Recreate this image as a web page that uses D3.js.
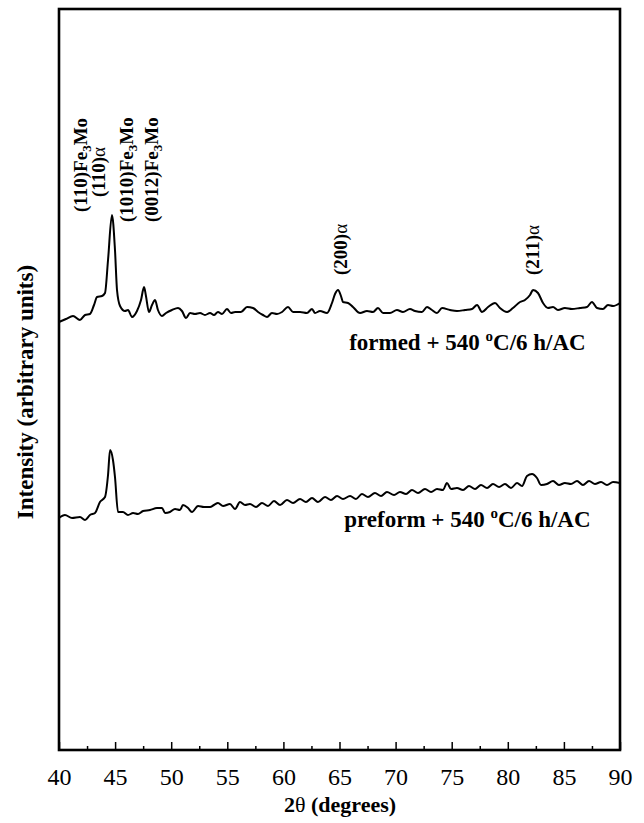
<!DOCTYPE html>
<html><head><meta charset="utf-8">
<script src="https://cdn.jsdelivr.net/npm/d3@7"></script>
<style>
html,body{margin:0;padding:0;background:#fff;}
svg{display:block;}
text{font-family:"Liberation Serif","Times New Roman",serif;fill:#000;}
</style></head>
<body>
<svg id="chart" width="644" height="823"></svg>
<script>
// ---- data (2θ in degrees, intensity in arbitrary units) ----
const formedTheta = [40.00,40.62,41.25,41.87,42.32,42.76,43.12,43.39,43.83,44.10,44.37,44.72,44.99,45.17,45.44,45.88,46.15,46.51,46.95,47.31,47.58,47.75,48.02,48.29,48.56,48.82,49.18,49.54,50.07,50.61,50.96,51.32,51.68,52.12,52.57,53.01,53.46,53.81,54.17,54.53,54.97,55.33,55.69,56.22,56.76,57.29,57.74,58.18,58.54,58.98,59.43,59.88,60.41,60.86,61.48,62.10,62.55,62.82,63.26,63.89,64.33,64.60,64.87,65.13,65.31,65.76,66.20,66.83,67.45,67.99,68.43,68.88,69.50,70.12,70.66,71.28,71.73,72.35,72.80,73.24,73.69,74.14,74.85,75.47,76.19,76.81,77.26,77.70,78.24,78.86,79.30,79.93,80.46,81.09,81.53,81.98,82.25,82.69,83.14,83.58,84.03,84.47,85.09,85.72,86.43,87.06,87.50,87.95,88.48,88.93,89.38,90.00];
const formedIntensity = [428,431,434,430,435,436,445,453,454,457,490,535,500,460,444,439,440,433,439,450,463,454,438,445,450,440,434,437,440,442,439,432,437,436,437,435,437,435,438,436,441,437,438,438,443,442,438,435,433,437,436,438,443,438,438,437,441,437,439,437,447,456,460,454,448,447,443,437,439,438,442,437,437,440,438,441,439,438,443,440,437,442,440,439,440,441,445,438,443,447,442,438,442,448,450,455,460,457,447,442,443,440,442,441,442,443,448,442,441,445,444,447];

const preformTheta = [40.00,40.53,41.16,41.87,42.32,42.76,43.21,43.65,44.10,44.37,44.55,44.81,44.99,45.26,45.70,46.15,46.60,47.04,47.49,48.11,48.73,49.18,49.45,49.89,50.34,50.78,51.05,51.50,51.85,52.39,52.92,53.46,53.81,54.17,54.62,55.24,55.69,56.13,56.58,57.02,57.56,58.09,58.63,59.16,59.70,60.32,60.86,61.48,62.01,62.55,63.08,63.71,64.24,64.78,65.31,65.94,66.47,67.00,67.54,68.16,68.70,69.23,69.86,70.39,70.93,71.46,72.00,72.62,73.16,73.69,74.22,74.58,74.94,75.47,76.01,76.54,77.08,77.61,78.15,78.68,79.22,79.75,80.29,80.82,81.27,81.71,82.16,82.60,82.96,83.49,84.03,84.56,85.09,85.63,86.17,86.70,87.24,87.77,88.31,88.84,89.38,90.00];
const preformIntensity = [232,235,232,233,230,235,237,248,253,275,300,290,273,238,238,235,237,236,239,240,242,242,237,238,241,240,245,242,238,244,243,243,245,247,244,246,241,248,245,246,243,247,244,249,245,250,247,251,248,252,248,253,250,254,251,254,251,256,253,257,254,258,255,258,256,260,257,261,258,261,260,267,261,262,260,264,261,265,262,266,263,266,262,267,264,274,276,272,265,266,269,265,267,266,269,265,269,266,268,265,268,267];

// peak labels: [prefix, subscript, suffix]; position in 2θ and intensity of label foot
const peakLabelParts = [["(110)Fe","3","Mo"],["(110)α","",""],["(1010)Fe","3","Mo"],["(0012)Fe","3","Mo"],["(200)α","",""],["(211)α","",""]];
const peakLabelTheta = [41.9, 43.45, 45.95, 48.2, 65.05, 82.2];
const peakLabelLevel = [538, 553, 528, 528, 475, 475];

const seriesNames = ["formed + 540 ", "preform + 540 "];
const seriesLabelTheta = [76.4, 76.4];
const seriesLabelLevel = [400, 223];

const xTicksMajor = [40,45,50,55,60,65,70,75,80,85,90];
const xTicksMinor = [42.5,47.5,52.5,57.5,62.5,67.5,72.5,77.5,82.5,87.5];

// ---- layout ----
const W = 644, H = 823;
const m = {left:59, right:24, top:9, bottom:73};
const svg = d3.select("#chart");
const x = d3.scaleLinear().domain([40,90]).range([m.left, W-m.right]);
const y = d3.scaleLinear().domain([0,741]).range([H-m.bottom, m.top]);

// traces
const line = d3.line().x(d=>x(d[0])).y(d=>y(d[1])).curve(d3.curveMonotoneX);
[[formedTheta,formedIntensity],[preformTheta,preformIntensity]].forEach(([t,v])=>{
  svg.append("path").datum(t.map((d,i)=>[d,v[i]]))
    .attr("d",line).attr("fill","none").attr("stroke","#000")
    .attr("stroke-width",2).attr("stroke-linejoin","round");
});

// axis ticks (inward)
const gx = svg.append("g").attr("transform",`translate(0,${H-m.bottom})`);
gx.call(d3.axisBottom(x).tickValues(xTicksMajor).tickSizeInner(-8).tickSizeOuter(0).tickPadding(18).tickFormat(d3.format("d")));
gx.select(".domain").remove();
gx.selectAll(".tick line").attr("stroke","#000").attr("stroke-width",1.5);
gx.selectAll(".tick text").style("font-family",'"Liberation Serif",serif').style("font-size","24px").attr("fill","#000");
const gm = svg.append("g").attr("transform",`translate(0,${H-m.bottom})`);
gm.call(d3.axisBottom(x).tickValues(xTicksMinor).tickSizeInner(-4).tickSizeOuter(0).tickFormat(""));
gm.select(".domain").remove();
gm.selectAll(".tick line").attr("stroke","#000").attr("stroke-width",1.5);

// frame
svg.append("rect").attr("x",m.left).attr("y",m.top)
  .attr("width",W-m.left-m.right).attr("height",H-m.top-m.bottom)
  .attr("fill","none").attr("stroke","#000").attr("stroke-width",2.6);

// axis titles
const xt = svg.append("text").attr("x",340).attr("y",H-11)
  .attr("text-anchor","middle").style("font-size","22px").style("font-weight","bold");
xt.append("tspan").text("2");
xt.append("tspan").style("font-weight","normal").text("θ");
xt.append("tspan").text(" (degrees)");
svg.append("text").attr("transform",`translate(33,392) rotate(-90)`)
  .attr("text-anchor","middle").style("font-size","23px").style("font-weight","bold")
  .text("Intensity (arbitrary units)");

// peak labels
peakLabelParts.forEach((p,i)=>{
  const t = svg.append("text")
    .attr("transform",`translate(${x(peakLabelTheta[i])+7},${y(peakLabelLevel[i])}) rotate(-90)`)
    .attr("text-anchor","start").style("font-size","19px").style("font-weight","bold");
  const pre = p[0];
  if (pre.endsWith("α")) {
    t.append("tspan").text(pre.slice(0,-1));
    t.append("tspan").style("font-weight","normal").text("α");
  } else {
    t.append("tspan").text(pre);
  }
  if (p[1]) {
    t.append("tspan").attr("dy",4).style("font-size","13px").text(p[1]);
    t.append("tspan").attr("dy",-4).text(p[2]);
  }
});

// series labels
seriesNames.forEach((s,i)=>{
  const t = svg.append("text").attr("x",x(seriesLabelTheta[i])).attr("y",y(seriesLabelLevel[i]))
    .attr("text-anchor","middle").style("font-size","23px").style("font-weight","bold");
  t.append("tspan").text(s);
  t.append("tspan").attr("dy",-9).style("font-size","15px").text("o");
  t.append("tspan").attr("dy",9).text("C/6 h/AC");
});
</script>
</body></html>
